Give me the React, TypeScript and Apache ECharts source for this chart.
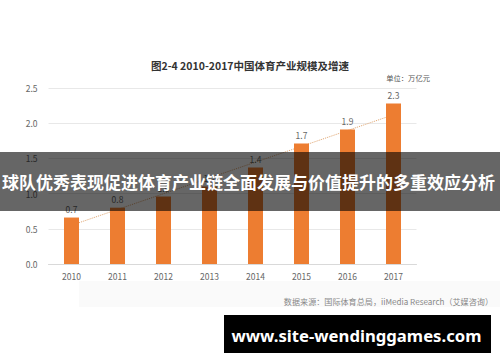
import React, { useEffect, useRef } from "react";
import * as echarts from "echarts";

const years = ["2010", "2011", "2012", "2013", "2014", "2015", "2016", "2017"];
const scale = [0.66, 0.8, 0.96, 1.1, 1.37, 1.71, 1.91, 2.28];
const trend = [0.55, null, null, null, null, null, null, 2.12];
const yTicks = { min: 0, max: 2.5, interval: 0.5 };

const titleText = "图2-4 2010-2017中国体育产业规模及增速";
const unitText = "单位：万亿元";
const sourceText = "数据来源：国际体育总局，iiMedia Research（艾媒咨询）";
const bannerText = "球队优秀表现促进体育产业链全面发展与价值提升的多重效应分析";
const urlText = "www.site-wendinggames.com";

const CJK = '"Noto Sans CJK SC", "Noto Sans", sans-serif';

export default function App() {
  const ref = useRef<HTMLDivElement>(null);
  useEffect(() => {
    if (!ref.current) return;
    const chart = echarts.init(ref.current, undefined, { renderer: "svg" });
    chart.setOption({
      animation: false,
      backgroundColor: "#ffffff",
      textStyle: { fontFamily: CJK },
      grid: { left: 48.5, right: 83.5, top: 88, bottom: 98, containLabel: false },
      xAxis: {
        type: "category",
        data: years,
        axisLine: { lineStyle: { color: "#d9d9d9" } },
        axisTick: { show: false },
        axisLabel: { color: "#666", fontSize: 8.5, margin: 8, fontFamily: CJK },
      },
      yAxis: {
        type: "value",
        min: yTicks.min,
        max: yTicks.max,
        interval: yTicks.interval,
        axisLine: { show: false },
        axisTick: { show: false },
        splitLine: { lineStyle: { color: "#e8e8e8" } },
        axisLabel: {
          color: "#666",
          fontSize: 8.5,
          margin: 11,
          fontFamily: CJK,
          formatter: (v: number) => v.toFixed(1),
        },
      },
      series: [
        {
          type: "line",
          data: trend,
          connectNulls: true,
          symbol: "none",
          z: 1,
          lineStyle: { color: "#e0a46e", width: 1, type: "dotted" },
        },
        {
          type: "bar",
          data: scale,
          barWidth: 15,
          z: 2,
          itemStyle: { color: "#ED7D31" },
          label: {
            show: true,
            position: "top",
            distance: 4,
            color: "#666",
            fontSize: 8.5,
            fontFamily: CJK,
            formatter: (p: any) => Number(p.value).toFixed(1),
          },
        },
      ],
      graphic: [
        {
          type: "rect",
          shape: { x: 79, y: 281, width: 421, height: 26 },
          style: { fill: "#fafafa" },
          z: -1,
        },
        {
          type: "text",
          x: 250,
          y: 65,
          style: {
            text: titleText,
            fill: "#333",
            font: `bold 10.5px ${CJK}`,
            textAlign: "center",
            textVerticalAlign: "middle",
          },
        },
        {
          type: "text",
          x: 430,
          y: 78,
          style: {
            text: unitText,
            fill: "#555",
            font: `7.3px ${CJK}`,
            textAlign: "right",
            textVerticalAlign: "middle",
          },
        },
        {
          type: "text",
          x: 493,
          y: 301,
          style: {
            text: sourceText,
            fill: "#888",
            font: `8.1px ${CJK}`,
            textAlign: "right",
            textVerticalAlign: "middle",
          },
        },
        {
          type: "rect",
          shape: { x: 0, y: 152, width: 500, height: 59 },
          style: { fill: "rgba(0,0,0,0.6)" },
          z: 100,
        },
        {
          type: "text",
          x: 248.5,
          y: 181,
          z: 101,
          style: {
            text: bannerText,
            fill: "#ffffff",
            font: `bold 17px ${CJK}`,
            textAlign: "center",
            textVerticalAlign: "middle",
          },
        },
        {
          type: "rect",
          shape: { x: 224, y: 315, width: 267, height: 38 },
          style: { fill: "#000000" },
          z: 100,
        },
        {
          type: "text",
          x: 356.5,
          y: 335,
          z: 101,
          style: {
            text: urlText,
            fill: "#ffffff",
            font: `bold 16.7px "Noto Sans", sans-serif`,
            textAlign: "center",
            textVerticalAlign: "middle",
          },
        },
      ],
    });
    return () => chart.dispose();
  }, []);
  return (
    <div
      ref={ref}
      style={{ position: "fixed", left: 0, top: 0, width: 500, height: 362 }}
    />
  );
}
